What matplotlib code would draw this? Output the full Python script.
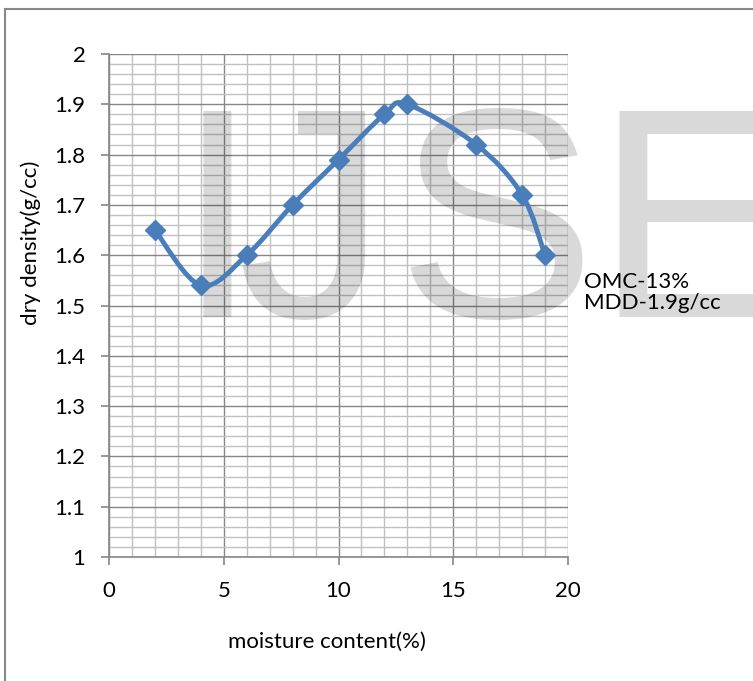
import numpy as np
import matplotlib
matplotlib.use("Agg")
import matplotlib.pyplot as plt
from matplotlib.path import Path
from matplotlib.patches import PathPatch, Rectangle
from matplotlib.ticker import MultipleLocator

# data
moisture = [2, 4, 6, 8, 10, 12, 13, 16, 18, 19]
dry_density = [1.65, 1.54, 1.60, 1.70, 1.79, 1.88, 1.90, 1.82, 1.72, 1.60]
note_lines = ["OMC-13%", "MDD-1.9g/cc"]
watermark = ["I", "J", "S", "E"]

W, H = 753, 681
plt.rcParams['font.family'] = ['Lato', 'DejaVu Sans']
fig = plt.figure(figsize=(W / 100, H / 100), dpi=100)
ax = fig.add_axes([109 / W, 1 - 557 / H, 459 / W, 503 / H])

blue = '#4a7ebb'
major_c = '#868686'
minor_c = '#c0c0c0'
fs = 16

# Excel-style smoothed line: cubic bezier through the points
pts = np.column_stack([moisture, dry_density]).astype(float)
ext = np.vstack([pts[0], pts, pts[-1]])
verts = [tuple(pts[0])]
codes = [Path.MOVETO]
for i in range(1, len(ext) - 2):
    p0, p1, p2, p3 = ext[i - 1], ext[i], ext[i + 1], ext[i + 2]
    c1 = p1 + (p2 - p0) / 6
    c2 = p2 - (p3 - p1) / 6
    verts += [tuple(c1), tuple(c2), tuple(p2)]
    codes += [Path.CURVE4] * 3
ax.add_patch(PathPatch(Path(verts, codes), facecolor='none', edgecolor=blue,
                       lw=3.5, zorder=3, capstyle='round'))
ax.plot(moisture, dry_density, linestyle='none', marker='D', ms=10,
        color=blue, mec=blue, zorder=4)

ax.set_xlim(0, 20)
ax.set_ylim(1, 2)
ax.xaxis.set_major_locator(MultipleLocator(5))
ax.xaxis.set_minor_locator(MultipleLocator(1))
ax.yaxis.set_major_locator(MultipleLocator(0.1))
ax.yaxis.set_minor_locator(MultipleLocator(0.02))
ax.yaxis.set_major_formatter(lambda v, p: f"{v:g}")

ax.grid(True, which='major', color=major_c, lw=1.0, zorder=1)
ax.grid(True, which='minor', color=minor_c, lw=1.0, zorder=1)
ax.set_axisbelow(True)
ax.set_facecolor('none')

for s in ['top', 'right']:
    ax.spines[s].set_visible(False)
for s in ['left', 'bottom']:
    ax.spines[s].set_color(major_c)
    ax.spines[s].set_linewidth(1.2)
ax.tick_params(which='major', length=6, width=1.2, color=major_c,
               labelsize=fs, pad=11)
ax.tick_params(which='minor', length=0)

fig.text(327 / W, 1 - 642 / H, "moisture content(%)", fontsize=fs,
         ha='center', va='center')
fig.text(31 / W, 1 - 243 / H, "dry density(g/cc)", fontsize=fs,
         ha='center', va='center', rotation=90)

fig.text(584 / W, 1 - 282 / H, note_lines[0], fontsize=fs, ha='left', va='center')
fig.text(584 / W, 1 - 303 / H, note_lines[1], fontsize=fs, ha='left', va='center')

# watermark letters
wm_x = [217, 312, 496, 694]
for ch, xp in zip(watermark, wm_x):
    ax.text(xp / W, 1 - 317 / H, ch, transform=fig.transFigure,
            fontsize=215, family='Liberation Sans', color='black', alpha=0.15,
            ha='center', va='baseline', zorder=2, clip_on=False)

# outer chart border
fig.patches.append(Rectangle((5 / W, -0.1), 1.2, 1 - 9 / H + 0.1,
                             transform=fig.transFigure, fill=False,
                             edgecolor='#888888', lw=1.5))

fig.savefig('out.png', dpi=100)
